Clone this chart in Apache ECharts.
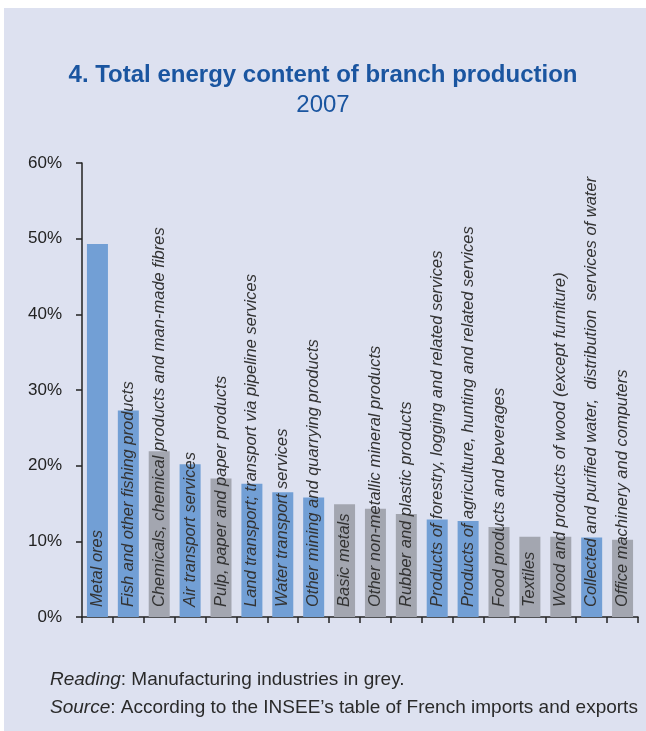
<!DOCTYPE html>
<html>
<head>
<meta charset="utf-8">
<script src="https://cdn.jsdelivr.net/npm/echarts@6/dist/echarts.min.js"></script>
<style>
html,body{margin:0;padding:0;background:#fff;}
#main{width:646px;height:731px;}
</style>
</head>
<body>
<div id="main"></div>
<script>
const categories = [
  "Metal ores",
  "Fish and other fishing products",
  "Chemicals, chemical products and man-made fibres",
  "Air transport services",
  "Pulp, paper and paper products",
  "Land transport; transport via pipeline services",
  "Water transport services",
  "Other mining and quarrying products",
  "Basic metals",
  "Other non-metallic mineral products",
  "Rubber and plastic products",
  "Products of forestry, logging and related services",
  "Products of agriculture, hunting and related services",
  "Food products and beverages",
  "Textiles",
  "Wood and products of wood (except furniture)",
  "Collected and purified water,  distribution  services of water",
  "Office machinery and computers"
];
const values = [49.3, 27.3, 21.9, 20.2, 18.3, 17.6, 16.5, 15.8, 14.9, 14.3, 13.6, 12.9, 12.7, 11.9, 10.6, 10.6, 10.5, 10.2];
const manufacturing = [false, false, true, false, true, false, false, false, true, true, true, false, false, true, true, true, false, true];
const yTicks = [0, 10, 20, 30, 40, 50, 60];

const BLUE = '#729fd5';
const GREY = '#a3a6b0';
const font = 'Liberation Sans, Arial, sans-serif';

const chart = echarts.init(document.getElementById('main'), null, {renderer: 'canvas'});
chart.setOption({
  backgroundColor: '#ffffff',
  animation: false,
  graphic: [
    {type: 'rect', z: -10, shape: {x: 4, y: 8, width: 642, height: 723}, style: {fill: '#dde1f0'}},
    {type: 'text', left: 'center', top: 63, style: {text: '4. Total energy content of branch production', font: 'bold 24px ' + font, fill: '#1a55a0'}},
    {type: 'text', left: 'center', top: 93, style: {text: '2007', font: '24px ' + font, fill: '#1a55a0'}},
    {type: 'text', left: 50, top: 670, style: {
      rich: {i: {fontStyle: 'italic', fontSize: 19, fontFamily: font, fill: '#2a2a2a'}, n: {fontSize: 19, fontFamily: font, fill: '#2a2a2a'}},
      text: '{i|Reading}{n|: Manufacturing industries in grey.}'
    }},
    {type: 'text', left: 50, top: 698, style: {
      rich: {i: {fontStyle: 'italic', fontSize: 19, fontFamily: font, fill: '#2a2a2a'}, n: {fontSize: 19, fontFamily: font, fill: '#2a2a2a'}},
      text: '{i|Source}{n|: According to the INSEE\u2019s table of French imports and exports}'
    }}
  ],
  grid: {left: 82, right: 8, top: 163, bottom: 114, containLabel: false},
  xAxis: {
    type: 'category',
    data: categories,
    axisLine: {lineStyle: {color: '#222', width: 1.5}},
    axisTick: {show: true, interval: 0, inside: false, length: 6, lineStyle: {color: '#222', width: 1.5}},
    axisLabel: {show: false, interval: 0}
  },
  yAxis: {
    type: 'value',
    min: yTicks[0],
    max: yTicks[yTicks.length - 1],
    interval: 10,
    axisLine: {show: true, lineStyle: {color: '#222', width: 1.5}},
    axisTick: {show: true, length: 6, lineStyle: {color: '#222', width: 1.5}},
    splitLine: {show: false},
    axisLabel: {formatter: '{value}%', fontSize: 17, fontFamily: font, color: '#222', margin: 20}
  },
  series: [{
    type: 'bar',
    barCategoryGap: '32%',
    data: values.map((v, i) => ({value: v, itemStyle: {color: manufacturing[i] ? GREY : BLUE}})),
    label: {
      show: true,
      position: 'insideBottom',
      rotate: 90,
      align: 'left',
      verticalAlign: 'middle',
      distance: 10,
      formatter: p => categories[p.dataIndex],
      fontStyle: 'italic',
      fontSize: 16.5,
      fontFamily: font,
      color: '#333'
    }
  }]
});
</script>
</body>
</html>
